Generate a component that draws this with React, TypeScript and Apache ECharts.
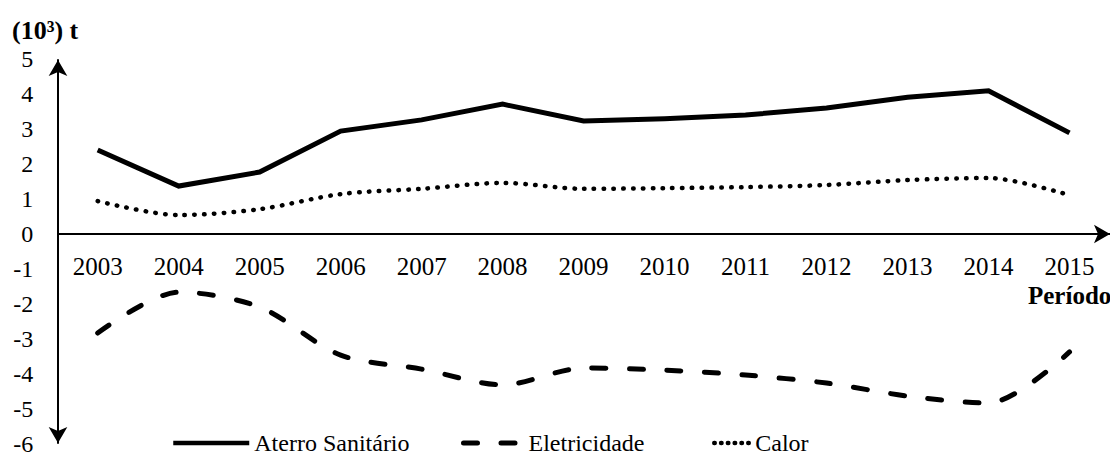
import React, { useEffect, useRef } from "react";
import * as echarts from "echarts";

const years = ["2003", "2004", "2005", "2006", "2007", "2008", "2009", "2010", "2011", "2012", "2013", "2014", "2015"];
const aterro = [2.4, 1.37, 1.77, 2.94, 3.26, 3.71, 3.23, 3.29, 3.4, 3.6, 3.91, 4.09, 2.89];
const eletricidade = [-2.83, -1.66, -2.09, -3.46, -3.86, -4.31, -3.83, -3.89, -4.03, -4.26, -4.63, -4.83, -3.37];
const calor = [0.94, 0.54, 0.71, 1.14, 1.29, 1.46, 1.29, 1.31, 1.34, 1.4, 1.54, 1.6, 1.11];
const seriesNames = ["Aterro Sanitário", "Eletricidade", "Calor"];
const yMin = -6;
const yMax = 5;

const FONT = "Liberation Serif";

export default function App() {
  const ref = useRef<HTMLDivElement>(null);
  useEffect(() => {
    if (!ref.current) return;
    const chart = echarts.init(ref.current, undefined, { renderer: "svg" });
    const axisColor = "#000";
    const text = { fontFamily: FONT, fontSize: 24, fontWeight: "normal", color: "#000" };
    const hiddenSymbol = { opacity: 0, borderWidth: 0 };
    const legendBase = {
      top: 431,
      padding: 0,
      itemHeight: 26,
      itemStyle: hiddenSymbol,
      textStyle: { ...text },
    };
    chart.setOption({
      animation: false,
      backgroundColor: "#fff",
      textStyle: { fontFamily: FONT },
      title: {
        text: "(10³) t",
        left: 12,
        top: 17,
        padding: 0,
        textStyle: { ...text, fontSize: 26, fontWeight: "bold" },
      },
      graphic: [
        {
          type: "text",
          left: 1028,
          top: 283,
          style: { text: "Período", fontFamily: FONT, fontWeight: "bold", fontSize: 25, fill: "#000" },
        },
      ],
      grid: [
        { left: 58, top: 60, width: 1061, height: 383, containLabel: false },
        { left: 57.2, top: 59, width: 1061, height: 385, containLabel: false },
      ],
      xAxis: [
        {
          gridIndex: 0,
          type: "value",
          min: 0,
          max: 1,
          axisLine: {
            show: true,
            onZero: true,
            symbol: ["none", "arrow"],
            symbolSize: [14, 16],
            lineStyle: { color: axisColor, width: 2 },
          },
          axisTick: { show: false },
          axisLabel: { show: false },
          splitLine: { show: false },
        },
        {
          gridIndex: 1,
          type: "category",
          data: years,
          boundaryGap: true,
          position: "bottom",
          offset: -210,
          axisLine: { show: false },
          axisTick: { show: false },
          splitLine: { show: false },
          axisLabel: { ...text, fontSize: 25, margin: 20, interval: 0 },
        },
      ],
      yAxis: [
        {
          gridIndex: 0,
          type: "value",
          min: -5.9714,
          max: 4.9714,
          axisLine: {
            show: true,
            onZero: true,
            symbol: ["arrow", "arrow"],
            symbolSize: [14, 16],
            lineStyle: { color: axisColor, width: 2 },
          },
          axisTick: { show: false },
          axisLabel: { show: false },
          splitLine: { show: false },
        },
        {
          gridIndex: 1,
          type: "value",
          min: yMin,
          max: yMax,
          interval: 1,
          axisLine: { show: false },
          axisTick: { show: false },
          splitLine: { show: false },
          axisLabel: { ...text, margin: 24 },
        },
      ],
      legend: [
        {
          ...legendBase,
          data: [
            {
              name: seriesNames[0],
              itemStyle: hiddenSymbol,
              lineStyle: { width: 4.5, color: "#000", type: "solid" },
            },
          ],
          left: 171,
          itemWidth: 76,
        },
        {
          ...legendBase,
          data: [
            {
              name: seriesNames[1],
              itemStyle: hiddenSymbol,
              lineStyle: { width: 5, color: "#000", type: [14, 23.5], cap: "round" },
            },
          ],
          left: 461,
          itemWidth: 60,
        },
        {
          ...legendBase,
          data: [
            {
              name: seriesNames[2],
              itemStyle: hiddenSymbol,
              lineStyle: { type: [0.5, 6.3], width: 4.5, cap: "round", color: "#000" },
            },
          ],
          left: 712,
          itemWidth: 36,
        },
      ],
      series: [
        {
          name: seriesNames[0],
          type: "line",
          xAxisIndex: 1,
          yAxisIndex: 1,
          data: aterro,
          symbol: "none",
          smooth: false,
          lineStyle: { color: "#000", width: 5, join: "miter" },
          itemStyle: { color: "#000" },
        },
        {
          name: seriesNames[1],
          type: "line",
          xAxisIndex: 1,
          yAxisIndex: 1,
          data: eletricidade,
          symbol: "none",
          smooth: 0.3,
          lineStyle: { color: "#000", width: 5, type: [14, 23.5], cap: "round" },
          itemStyle: { color: "#000" },
        },
        {
          name: seriesNames[2],
          type: "line",
          xAxisIndex: 1,
          yAxisIndex: 1,
          data: calor,
          symbol: "none",
          smooth: 0.3,
          lineStyle: { color: "#000", width: 4.5, type: [0.5, 9.3], cap: "round" },
          itemStyle: { color: "#000" },
        },
      ],
    });
    return () => chart.dispose();
  }, []);
  return (
    <div
      ref={ref}
      style={{ position: "fixed", left: 0, top: 0, width: 1110, height: 457, background: "#fff" }}
    />
  );
}
